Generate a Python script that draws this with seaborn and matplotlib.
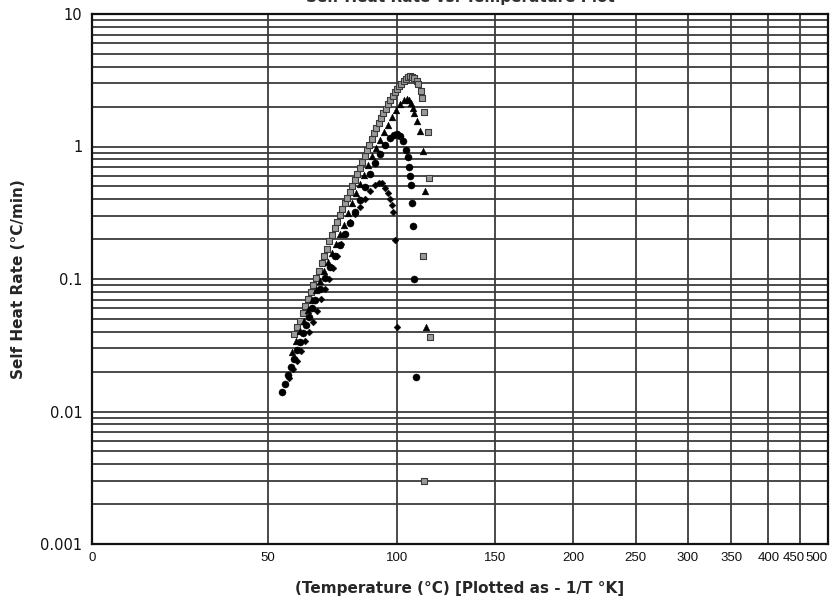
import numpy as np
import pandas as pd
import matplotlib
matplotlib.use("Agg")
import matplotlib.pyplot as plt
import matplotlib.transforms as mtrans
import seaborn as sns
from matplotlib.ticker import FixedLocator, LogLocator, FuncFormatter, NullFormatter

# ---------------- data (temperature °C, self heat rate °C/min) ----------------
sq_temp = [59, 60, 61, 62, 63, 64, 65, 66, 67, 68, 69, 70, 71, 72, 73, 74, 75, 76, 77, 78,
           79, 80, 81, 82, 83, 84, 85, 86, 87, 88, 89, 90, 91, 92, 93, 94, 95, 96, 97, 98,
           99, 100, 101, 102, 103, 104, 105, 106, 107, 108, 109, 109.7,
           111.0, 111.7, 112.6, 114.3, 114.9, 112.2, 115.4, 112.5]
sq_rate = [0.0384, 0.0433, 0.0485, 0.0550, 0.0622, 0.0706, 0.080, 0.090, 0.101, 0.115,
           0.131, 0.149, 0.169, 0.192, 0.215, 0.241, 0.271, 0.306, 0.337, 0.372,
           0.411, 0.456, 0.507, 0.562, 0.617, 0.685, 0.760, 0.845, 0.933, 1.03,
           1.14, 1.26, 1.38, 1.50, 1.64, 1.78, 1.93, 2.09, 2.26, 2.40,
           2.56, 2.70, 2.85, 2.98, 3.10, 3.22, 3.35, 3.40, 3.37, 3.28, 3.12, 2.96,
           2.64, 2.31, 1.81, 1.28, 0.578, 0.150, 0.0365, 0.0030]

tri_temp = [58.3, 59.7, 61.1, 62.6, 64.0, 65.5, 67.0, 68.4, 69.9, 71.5, 73.0, 74.6, 76.1,
            77.7, 79.3, 80.9, 82.5, 84.2, 85.8, 87.5, 89.2, 90.9, 92.6, 94.3, 96.0, 97.8,
            99.6, 101.4, 103.2, 104.5, 105.4, 106.4, 107.3,
            107.8, 109.3, 110.6, 112.2, 113.2, 113.6]
tri_rate = [0.0281, 0.0338, 0.0405, 0.0486, 0.0583, 0.0695, 0.0819, 0.0966, 0.114, 0.134,
            0.157, 0.185, 0.219, 0.256, 0.315, 0.375, 0.442, 0.517, 0.609, 0.725, 0.848,
            0.974, 1.12, 1.28, 1.45, 1.67, 1.90, 2.09, 2.24, 2.28, 2.24, 2.13, 1.95,
            1.80, 1.57, 1.32, 0.93, 0.46, 0.0436]

cir_temp = [54.7, 55.8, 56.8, 57.9, 59.0, 60.0, 61.1, 62.2, 63.3, 64.4, 65.5, 66.6, 68.4,
            70.3, 72.2, 74.2, 76.1, 78.1, 80.1, 82.1, 84.2, 86.2, 88.3, 90.4, 92.6, 94.7,
            96.9, 98.6, 100.0, 101.4, 102.7, 104.1, 105.0,
            105.6, 105.9, 106.4, 106.9, 107.3, 107.9, 108.6]
cir_rate = [0.0140, 0.0161, 0.0187, 0.0217, 0.0251, 0.0291, 0.0335, 0.0388, 0.0450, 0.0517,
            0.0599, 0.0695, 0.0840, 0.102, 0.123, 0.149, 0.181, 0.219, 0.265, 0.323, 0.395,
            0.499, 0.625, 0.751, 0.885, 1.03, 1.15, 1.22, 1.24, 1.20, 1.10, 0.941, 0.833,
            0.70, 0.60, 0.51, 0.377, 0.252, 0.100, 0.0183]

dia_temp = [57.2, 58.6, 60.0, 61.5, 62.9, 64.4, 65.8, 67.3, 68.8, 70.3, 71.8, 73.4, 74.9,
            76.5, 78.1, 80.1, 82.1, 84.2, 86.2, 88.3, 90.4, 92.1, 93.4, 94.7, 96.0, 96.9,
            97.8, 98.4, 99.0, 100.2]
dia_rate = [0.0179, 0.0209, 0.0240, 0.0286, 0.0340, 0.0398, 0.0474, 0.0573, 0.0706, 0.0840,
            0.100, 0.121, 0.149, 0.184, 0.219, 0.269, 0.309, 0.350, 0.402, 0.461, 0.508,
            0.530, 0.527, 0.486, 0.446, 0.402, 0.362, 0.320, 0.197, 0.0434]

x_ticks = [0, 50, 100, 150, 200, 250, 300, 350, 400, 450, 500]
y_ticks = [0.001, 0.01, 0.1, 1, 10]
y_tick_labels = ["0.001", "0.01", "0.1", "1", "10"]

title = "Self Heat Rate vs. Temperature Plot"
x_label = "(Temperature (°C) [Plotted as - 1/T °K]"
y_label = "Self Heat Rate (°C/min)"

# ---------------- figure ----------------
sns.set_style("white")
plt.rcParams['font.family'] = ['DejaVu Sans']

fig = plt.figure(figsize=(8.30, 6.09), dpi=100)
ax = fig.add_axes([92 / 830, 1 - 544 / 609, (828 - 92) / 830, (544 - 14) / 609])


def fwd(t):
    t = np.asarray(t, dtype=float)
    return -1.0 / (t + 273.15)


def inv(u):
    u = np.asarray(u, dtype=float)
    with np.errstate(divide="ignore"):
        return -1.0 / u - 273.15


ax.set_xscale("function", functions=(fwd, inv))
ax.set_yscale("log")

series = [
    (sq_temp, sq_rate, "s", 24, "#9a9a9a", "#3a3a3a", 0.8),
    (tri_temp, tri_rate, "^", 24, "black", "black", 0.3),
    (cir_temp, cir_rate, "o", 26, "black", "black", 0.3),
    (dia_temp, dia_rate, "D", 12, "black", "black", 0.3),
]
for t, r, m, s, fc, ec, lw in series:
    df = pd.DataFrame({"temp": t, "rate": r})
    sns.scatterplot(data=df, x="temp", y="rate", marker=m, s=s, color=fc,
                    edgecolor=ec, linewidth=lw, ax=ax, zorder=3, legend=False)

ax.set_xlim(0, 500)
ax.set_ylim(0.001, 10)

crowded = x_ticks[-2:]   # drawn separately so they do not collide
ax.xaxis.set_major_locator(FixedLocator(x_ticks))
ax.xaxis.set_major_formatter(FuncFormatter(lambda v, p: "" if v in crowded else f"{v:g}"))
ax.xaxis.set_minor_formatter(NullFormatter())
ax.yaxis.set_major_locator(FixedLocator(y_ticks))
ax.set_yticklabels(y_tick_labels)
ax.yaxis.set_minor_locator(LogLocator(base=10, subs=np.arange(2, 10), numticks=20))
ax.yaxis.set_minor_formatter(NullFormatter())

ax.grid(True, which="major", axis="both", color="#3c3c3c", linewidth=1.3)
ax.grid(True, which="minor", axis="y", color="#3c3c3c", linewidth=1.3)
ax.set_axisbelow(True)

xpad = 6
ax.tick_params(axis="y", which="major", length=0, labelsize=10.5, colors="#111111", pad=7)
ax.tick_params(axis="x", which="major", direction="in", length=5, width=1.2,
               labelsize=9.5, colors="#111111", pad=xpad)
ax.tick_params(axis="both", which="minor", length=0)

xfam = ['Liberation Sans Narrow', 'Liberation Sans', 'DejaVu Sans']
fig.canvas.draw()
for lab in ax.get_xticklabels():
    lab.set_family(xfam)
    lab.set_fontsize(9.5)
    lab.set_color("#111111")

base_tr, _, _ = ax.get_xaxis_text1_transform(xpad)
tr450 = base_tr + mtrans.ScaledTranslation(3 / 72, 0, fig.dpi_scale_trans)
ax.text(crowded[0], 0, f"{crowded[0]:g}", transform=tr450, ha="right", va="top",
        fontsize=9.5, family=xfam, color="#111111", clip_on=False)
ax.text(crowded[1], 0, f"{crowded[1]:g}", transform=base_tr, ha="right", va="top",
        fontsize=9.5, family=xfam, color="#111111", clip_on=False)

for sp in ax.spines.values():
    sp.set_color("#111111")
    sp.set_linewidth(1.6)

ax.set_xlabel(x_label, fontsize=11, fontweight="bold", labelpad=12)
ax.set_ylabel(y_label, fontsize=11, fontweight="bold", labelpad=10)
fig.text(460 / 830, 1 - 2 / 609, title, ha="center", va="baseline",
         fontsize=11, fontweight="bold", color="#333333")

fig.savefig("out.png", dpi=100)
